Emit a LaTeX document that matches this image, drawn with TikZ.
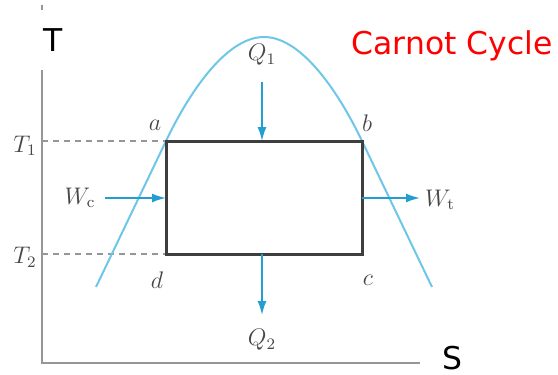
\documentclass[tikz,border=0pt]{standalone}
\usepackage{fontspec}
\setsansfont{DejaVu Sans}
\usetikzlibrary{arrows.meta}
\definecolor{domeblue}{RGB}{110,198,232}
\definecolor{flowblue}{RGB}{35,158,208}
\definecolor{cyclegray}{RGB}{62,62,62}
\definecolor{axisgray}{RGB}{150,150,150}
\definecolor{labelgray}{RGB}{70,70,70}
\begin{document}
\begin{tikzpicture}[x = .5pt, y = -.5pt,
    flow/.style = {flowblue, line width = .8pt,
                   -{Latex[length = 7pt, width = 4.5pt]}},
    lbl/.style = {text = labelgray, font = \fontsize{11.5}{13}\selectfont, inner sep = 1pt}]
      \useasboundingbox (0,0) rectangle (558,375);
      \coordinate (a) at (166,141);
      \coordinate (b) at (362,141);
      \coordinate (c) at (362,254);
      \coordinate (d) at (166,254);
      \coordinate (top) at (264,37);
      % axes
      \draw [axisgray, line width = 1.2pt] (42,5) -- (42,363) -- (420,363);
      \node [fill = white, minimum height = 30pt, inner sep = 2pt,
             font = \sffamily\fontsize{15.7}{18}\selectfont]
        (T) at (53,40) {T};
      \node [inner sep = 1pt, font = \sffamily\fontsize{15.7}{18}\selectfont]
        (S) at (452,358) {S};
      \node [red, font = \sffamily\fontsize{15.7}{18}\selectfont]
        (title) at (452,46) {Carnot Cycle};
      % temperature levels
      \draw [axisgray, line width = 1pt, dash pattern = on 3pt off 2.5pt]
        (42,141) -- (a);
      \draw [axisgray, line width = 1pt, dash pattern = on 3pt off 2.5pt]
        (42,254) -- (d);
      % saturation dome
      \draw [domeblue, line width = 1pt]
        (96,287) -- (a) .. controls (186,99) and (224,37) .. (top)
        .. controls (304,37) and (342,99) .. (b) -- (432,287);
      % cycle
      \draw [cyclegray, line width = 1.5pt] (a) -- (b) -- (c) -- (d) -- cycle;
      % labels
      \node [lbl] (la) at (155,125) {$a$};
      \node [lbl] (lb) at (367,123) {$b$};
      \node [lbl] (lc) at (368,280) {$c$};
      \node [lbl] (ld) at (157,280) {$d$};
      \node [lbl] (T1) at (25,146) {$T_1$};
      \node [lbl] (T2) at (25,257) {$T_2$};
      \node [lbl] (Wc) at (80,198) {$W_{\mathrm{c}}$};
      \node [lbl] (Wt) at (440,200) {$W_{\mathrm{t}}$};
      \node [lbl] (Q1) at (262,55) {$Q_1$};
      \node [lbl] (Q2) at (262,340) {$Q_2$};
      % energy flows
      \coordinate (q1s) at (262,82);
      \coordinate (q2e) at (262,315);
      \coordinate (wcs) at (105,198);
      \coordinate (wte) at (420,198);
      \draw [flow] (q1s) -- (q1s |- a);
      \draw [flow] (q2e |- d) -- (q2e);
      \draw [flow] (wcs) -- (wcs -| a);
      \draw [flow] (wte -| b) -- (wte);
    \end{tikzpicture}
\end{document}
